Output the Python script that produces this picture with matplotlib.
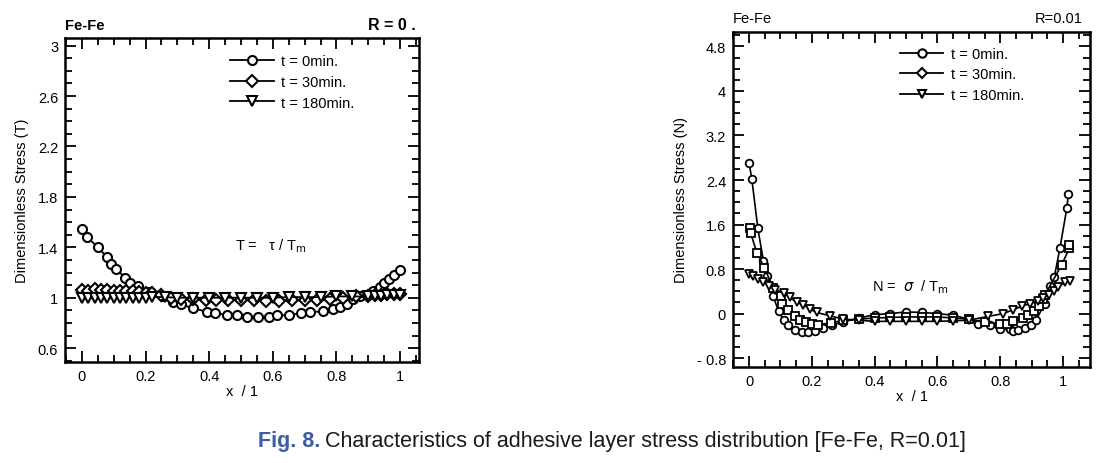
"""Adhesive layer stress distribution, Fe-Fe: shear (T) and normal (N) stress."""
import matplotlib

matplotlib.use("Agg")
import matplotlib.pyplot as plt  # noqa: E402
from matplotlib.ticker import FixedLocator, MultipleLocator  # noqa: E402

plt.rcParams["font.family"] = ["Liberation Sans", "DejaVu Sans"]

SERIES_LABELS = ["t = 0min.", "t = 30min.", "t = 180min."]
T_YTICKS = [0.6, 1.0, 1.4, 1.8, 2.2, 2.6, 3.0]
N_YTICKS = [-0.8, 0.0, 0.8, 1.6, 2.4, 3.2, 4.0, 4.8]

# left panel: dimensionless shear stress T, R = 0.
T0_X = [0.0, 0.017, 0.05, 0.078, 0.093, 0.107, 0.135, 0.151, 0.175, 0.212,
        0.256, 0.285, 0.31, 0.35, 0.392, 0.418, 0.455, 0.488, 0.518, 0.554,
        0.589, 0.614, 0.652, 0.69, 0.717, 0.759, 0.79, 0.811, 0.832, 0.853,
        0.875, 0.916, 0.937, 0.95, 0.966, 0.981, 1.0]
T0_Y = [1.547, 1.48, 1.40, 1.325, 1.27, 1.23, 1.16, 1.12, 1.09, 1.045,
        1.01, 0.965, 0.95, 0.915, 0.89, 0.877, 0.865, 0.862, 0.85, 0.845,
        0.848, 0.86, 0.862, 0.877, 0.885, 0.892, 0.91, 0.93, 0.95, 0.99,
        1.01, 1.05, 1.085, 1.12, 1.15, 1.18, 1.22]
T30_X = [0.0, 0.02, 0.04, 0.06, 0.08, 0.1, 0.12, 0.14, 0.16, 0.18, 0.2,
         0.22, 0.25, 0.28, 0.31, 0.35, 0.39, 0.42, 0.46, 0.5, 0.54, 0.58,
         0.62, 0.66, 0.7, 0.74, 0.78, 0.82, 0.86, 0.9, 0.92, 0.94, 0.96,
         0.98, 1.0]
T30_Y = [1.06, 1.05, 1.07, 1.06, 1.06, 1.05, 1.05, 1.05, 1.05, 1.045, 1.04,
         1.04, 1.02, 1.0, 0.99, 0.99, 0.98, 0.98, 0.98, 0.98, 0.98, 0.975,
         0.975, 0.98, 0.98, 0.985, 0.99, 1.0, 1.01, 1.015, 1.02, 1.025,
         1.03, 1.03, 1.03]
T180_X = [0.0, 0.02, 0.04, 0.06, 0.08, 0.1, 0.12, 0.14, 0.16, 0.18, 0.2,
          0.22, 0.26, 0.3, 0.35, 0.4, 0.45, 0.5, 0.55, 0.6, 0.65, 0.7,
          0.75, 0.8, 0.85, 0.9, 0.92, 0.94, 0.96, 0.98, 1.0]
T180_Y = [0.995, 0.995, 0.995, 0.995, 0.995, 1.0, 1.0, 1.0, 1.0, 1.0, 1.0,
          1.005, 1.005, 1.0, 1.0, 1.0, 1.0, 1.0, 1.0, 1.0, 1.005, 1.005,
          1.005, 1.01, 1.01, 1.01, 1.015, 1.015, 1.02, 1.02, 1.02]

# right panel: dimensionless normal stress N, R = 0.01
N0_X = [0.0, 0.009, 0.028, 0.046, 0.058, 0.077, 0.094, 0.11, 0.125, 0.146,
        0.168, 0.189, 0.21, 0.235, 0.263, 0.3, 0.35, 0.4, 0.45, 0.5, 0.55,
        0.6, 0.65, 0.7, 0.73, 0.768, 0.80, 0.83, 0.842, 0.858, 0.879, 0.897,
        0.914, 0.943, 0.96, 0.972, 0.99, 1.012, 1.017]
N0_Y = [2.71, 2.41, 1.53, 0.94, 0.68, 0.31, 0.04, -0.11, -0.2, -0.29,
        -0.34, -0.34, -0.32, -0.26, -0.2, -0.15, -0.08, -0.02, 0.0, 0.03,
        0.02, 0.0, -0.03, -0.1, -0.18, -0.2, -0.28, -0.28, -0.32, -0.3,
        -0.26, -0.2, -0.11, 0.18, 0.5, 0.65, 1.17, 1.89, 2.14]
N30_X = [0.003, 0.005, 0.025, 0.049, 0.077, 0.102, 0.104, 0.125, 0.146,
         0.162, 0.18, 0.2, 0.22, 0.26, 0.3, 0.35, 0.4, 0.45, 0.5, 0.55, 0.6,
         0.65, 0.7, 0.75, 0.8, 0.82, 0.842, 0.874, 0.89, 0.908, 0.925,
         0.935, 0.943, 0.996, 1.02, 1.02]
N30_Y = [1.54, 1.45, 1.09, 0.82, 0.46, 0.31, 0.18, 0.06, -0.05, -0.12,
         -0.16, -0.18, -0.2, -0.17, -0.12, -0.1, -0.08, -0.07, -0.06, -0.06,
         -0.06, -0.08, -0.1, -0.16, -0.18, -0.18, -0.14, -0.08, -0.02, 0.04,
         0.13, 0.26, 0.34, 0.88, 1.17, 1.24]
N180_X = [0.0, 0.014, 0.03, 0.046, 0.065, 0.083, 0.11, 0.13, 0.152, 0.173,
          0.194, 0.215, 0.258, 0.3, 0.35, 0.4, 0.45, 0.5, 0.55, 0.6, 0.65,
          0.7, 0.762, 0.81, 0.842, 0.868, 0.895, 0.92, 0.937, 0.955, 0.97,
          0.985, 1.006, 1.022]
N180_Y = [0.72, 0.67, 0.62, 0.56, 0.5, 0.43, 0.37, 0.29, 0.2, 0.16, 0.08,
          0.02, -0.04, -0.1, -0.12, -0.14, -0.14, -0.14, -0.14, -0.14,
          -0.13, -0.12, -0.05, 0.0, 0.07, 0.13, 0.18, 0.22, 0.28, 0.34, 0.4,
          0.48, 0.56, 0.58]

MARKERS = ["o", "D", "v"]
N_MARKERS = ["o", "s", "v"]


def style_axes(ax, xlim, ylim, yticks, yminor):
    ax.set_xlim(*xlim)
    ax.set_ylim(*ylim)
    ax.xaxis.set_major_locator(MultipleLocator(0.2))
    ax.xaxis.set_minor_locator(MultipleLocator(0.05))
    ax.yaxis.set_major_locator(FixedLocator(yticks))
    ax.yaxis.set_minor_locator(MultipleLocator(yminor))
    ax.tick_params(which="both", direction="in", top=True, right=True,
                   width=1.3, labelsize=10.5, pad=5)
    ax.tick_params(which="major", length=8)
    ax.tick_params(which="minor", length=5)
    for sp in ax.spines.values():
        sp.set_linewidth(1.8)
    ax.xaxis.set_major_formatter(plt.FuncFormatter(lambda v, _: f"{v:g}"))
    ax.set_xlabel("x  / 1", fontsize=10.5, labelpad=1)


def main() -> None:
    fig = plt.figure(figsize=(11.1, 4.64), dpi=100)

    # left: shear stress
    ax1 = fig.add_axes([0.0586, 0.2177, 0.319, 0.698])
    for xs, ys, m, lab in zip([T0_X, T30_X, T180_X], [T0_Y, T30_Y, T180_Y],
                              MARKERS, SERIES_LABELS):
        ax1.plot(xs, ys, "-", color="black", lw=1.3, marker=m,
                 ms=6.5 if m != "D" else 6, mfc="white", mec="black",
                 mew=1.5, label=lab)
    style_axes(ax1, (-0.053, 1.06), (0.49, 3.06), T_YTICKS, 0.1)
    ax1.yaxis.set_major_formatter(plt.FuncFormatter(lambda v, _: f"{v:g}"))
    ax1.set_ylabel("Dimensionless Stress (T)", fontsize=10.5, labelpad=6)
    ax1.legend(loc="upper left", bbox_to_anchor=(0.43, 0.99), frameon=False,
               fontsize=10.5, handlelength=3.0, handletextpad=0.5,
               labelspacing=0.45)
    ax1.text(0.0, 1.02, "Fe-Fe", transform=ax1.transAxes, fontsize=10.5,
             fontweight="bold", ha="left", va="bottom")
    ax1.text(0.99, 1.02, "R = 0 .", transform=ax1.transAxes, fontsize=11.5,
             fontweight="bold", ha="right", va="bottom")
    ax1.text(0.48, 0.36, "T =   \u03c4 / T$_\\mathrm{m}$",
             transform=ax1.transAxes, fontsize=10.5, ha="left", va="center")

    # right: normal stress
    ax2 = fig.add_axes([0.6604, 0.2069, 0.3216, 0.722])
    for xs, ys, m, lab in zip([N0_X, N30_X, N180_X], [N0_Y, N30_Y, N180_Y],
                              N_MARKERS, SERIES_LABELS):
        ax2.plot(xs, ys, "-", color="black", lw=1.2, marker=m, ms=5.5,
                 mfc="white", mec="black", mew=1.3)
    # legend handles use the legend glyphs of the source figure
    for m, lab in zip(MARKERS, SERIES_LABELS):
        ax2.plot([], [], "-", color="black", lw=1.3, marker=m,
                 ms=6 if m != "D" else 5.5, mfc="white", mec="black",
                 mew=1.5, label=lab)
    style_axes(ax2, (-0.051, 1.086), (-0.96, 5.06), N_YTICKS, 0.2)
    ax2.yaxis.set_major_formatter(plt.FuncFormatter(
        lambda v, _: f"- {abs(v):g}" if v < 0 else f"{v:g}"))
    ax2.set_ylabel("Dimensionless Stress (N)", fontsize=10.5, labelpad=6)
    ax2.legend(loc="upper left", bbox_to_anchor=(0.43, 0.995), frameon=False,
               fontsize=10.5, handlelength=3.0, handletextpad=0.5,
               labelspacing=0.45)
    ax2.text(0.0, 1.02, "Fe-Fe", transform=ax2.transAxes, fontsize=10.5,
             ha="left", va="bottom")
    ax2.text(0.98, 1.02, "R=0.01", transform=ax2.transAxes, fontsize=10.5,
             ha="right", va="bottom")
    ax2.text(0.39, 0.24, "N =  $\\sigma$  / T$_\\mathrm{m}$",
             transform=ax2.transAxes, fontsize=10.5, ha="left", va="center")

    # caption: blue bold figure number followed by black text
    cap_font = ["Liberation Sans Narrow", "Liberation Sans", "DejaVu Sans"]
    t1 = fig.text(258 / 1110, 1 - 441 / 464, "Fig. 8.", fontsize=15.5,
                  fontweight="bold", color="#3b5ca6", family=cap_font,
                  ha="left", va="center")
    fig.canvas.draw()
    bb = t1.get_window_extent(renderer=fig.canvas.get_renderer())
    fig.text((bb.x1 + 5) / fig.bbox.width, 1 - 441 / 464,
             "Characteristics of adhesive layer stress distribution "
             "[Fe-Fe, R=0.01]", fontsize=15.5, color="#1a1a1a",
             family=cap_font, ha="left", va="center")

    fig.savefig("out.png", dpi=100)
    plt.close(fig)


if __name__ == "__main__":
    main()
